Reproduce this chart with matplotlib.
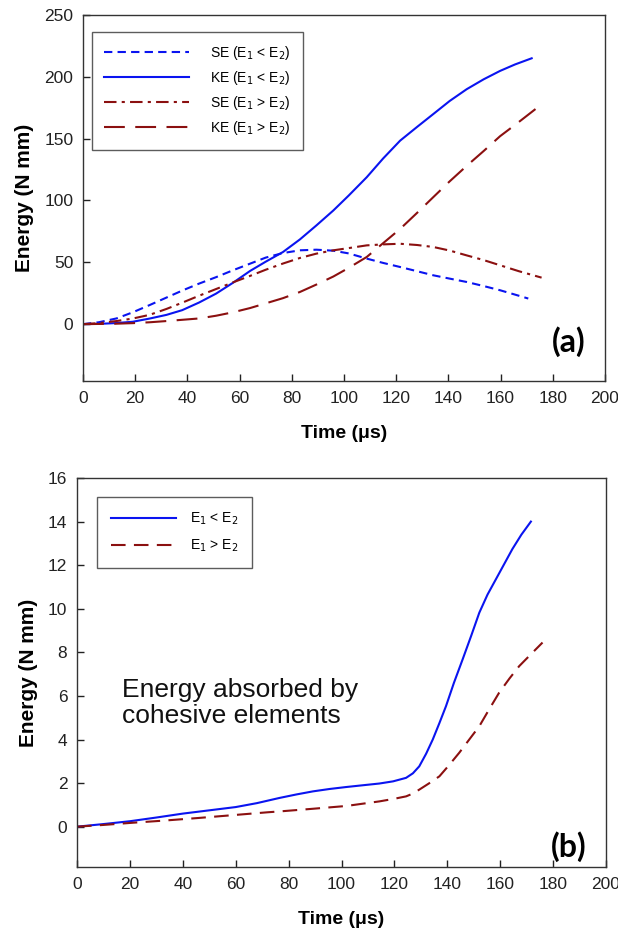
import numpy as np
import matplotlib.pyplot as plt

plt.rcParams['font.family'] = ['Liberation Sans', 'DejaVu Sans']

# (a) strain energy (SE) and kinetic energy (KE), N mm vs time in us
t_se_lt = [0, 6, 12.8, 19, 25.5, 32, 38.3, 44.5, 51, 57.5, 64, 70, 76.6, 83.1, 89.4, 95.9,
           101.8, 108.7, 115, 121.5, 128, 134.2, 140.5, 147, 153.5, 159.8, 165, 170.6]
se_lt = [0, 1.5, 4.6, 9.5, 15.4, 21.5, 27.4, 32.8, 38, 43.6, 48.9, 53.8, 57.5, 59.7, 60.2, 59.4,
         57.2, 53, 49.5, 46.2, 42.8, 39.5, 36.8, 34.1, 30.8, 27.4, 24.2, 20.7]
t_ke_lt = [0, 6, 12, 19, 25.5, 32, 38, 44.5, 51, 57.5, 64, 70, 76.6, 83.1, 89.4, 95.9, 101.8,
           108.7, 115, 121.5, 128, 134.2, 140.5, 147, 153.5, 159.8, 165.5, 171.9]
ke_lt = [0, 0.2, 0.8, 1.9, 4.5, 7.5, 11.3, 17.5, 24.7, 33.5, 43, 50.5, 58.3, 68.5, 79.8, 91.9,
         104, 118.8, 134, 148.4, 159.5, 169.9, 180.5, 190, 198, 204.8, 210, 215]
t_se_gt = [0, 6, 12.8, 19, 25.5, 32, 38.3, 44.5, 51, 57.5, 64, 70, 76.6, 83.1, 89.4, 95.9,
           101.8, 108.7, 115, 121.5, 128, 134.2, 140.5, 147, 153.5, 159.8, 167, 175.7]
se_gt = [0, 0.8, 2.5, 4.5, 7.5, 12.3, 17.6, 23, 28.4, 33.8, 39, 44, 49, 53.5, 57, 59.7, 61.5,
         63.7, 64.5, 65, 64, 62.4, 59.5, 55.6, 51.8, 47.6, 42.8, 37.6]
t_ke_gt = [0, 12, 19, 25.5, 32, 38, 44.5, 51, 57.5, 64, 70, 76.6, 83.1, 89.4, 95.9, 101.8,
           108.7, 115, 121.5, 128, 134.2, 140.5, 147, 153.5, 159.8, 167, 174]
ke_gt = [0, 0.3, 0.8, 1.5, 2.5, 3.5, 4.6, 6.8, 9.6, 13, 16.8, 21, 26, 32, 38.5, 45.5,
         54.3, 65.5, 77, 90, 102.7, 115.5, 128, 140, 152, 163.5, 175]

# (b) energy absorbed by cohesive elements, N mm vs time in us
t_coh_lt = [0, 10, 20, 30, 40, 50, 60, 68, 76.6, 83, 89.2, 95.5, 101.8, 108, 114.3, 119.5,
            124.4, 127, 129.4, 132, 134.5, 137, 139.5, 142.5, 145.8, 149, 152.1, 155.2,
            158.4, 161.5, 164.6, 168, 171.6]
coh_lt = [0, 0.12, 0.25, 0.42, 0.6, 0.75, 0.9, 1.08, 1.32, 1.48, 1.62, 1.73, 1.82, 1.9, 1.98,
          2.08, 2.24, 2.45, 2.77, 3.35, 4.0, 4.75, 5.53, 6.6, 7.68, 8.75, 9.82, 10.65,
          11.36, 12.05, 12.74, 13.4, 14.0]
t_coh_gt = [0, 10, 21, 33, 46, 59, 72, 76.6, 89, 101.8, 114.3, 119.5, 124.4, 127, 129.4, 133,
            137, 140.5, 144.5, 148.3, 152.1, 155.8, 159.6, 163.5, 167.2, 171.5, 176]
coh_gt = [0, 0.08, 0.18, 0.28, 0.4, 0.53, 0.66, 0.7, 0.82, 0.95, 1.16, 1.27, 1.39, 1.52, 1.7,
          1.98, 2.31, 2.8, 3.39, 4.0, 4.61, 5.38, 6.15, 6.8, 7.37, 7.9, 8.45]

blue = '#0a14f0'
red = '#8b1010'

fig = plt.figure(figsize=(6.18, 9.38), dpi=100)
ax1 = fig.add_axes([0.1343, 0.5938, 0.8447, 0.3902])
ax2 = fig.add_axes([0.1246, 0.0757, 0.856, 0.4147])

ax1.plot(t_se_lt, se_lt, color=blue, lw=1.5, dashes=(4, 2.5), label='SE (E$_1$ < E$_2$)')
ax1.plot(t_ke_lt, ke_lt, color=blue, lw=1.5, label='KE (E$_1$ < E$_2$)')
ax1.plot(t_se_gt, se_gt, color=red, lw=1.5, dashes=(6, 2.5, 1.5, 2.5), label='SE (E$_1$ > E$_2$)')
ax1.plot(t_ke_gt, ke_gt, color=red, lw=1.5, dashes=(10, 5), label='KE (E$_1$ > E$_2$)')
ax1.set_ylim(-46, 250)
ax1.set_yticks(np.arange(0, 251, 50))

ax2.plot(t_coh_lt, coh_lt, color=blue, lw=1.5, label='E$_1$ < E$_2$')
ax2.plot(t_coh_gt, coh_gt, color=red, lw=1.5, dashes=(7, 4), label='E$_1$ > E$_2$')
ax2.set_ylim(-1.85, 16)
ax2.set_yticks(np.arange(0, 17, 2))
ax2.text(17, 6.8, 'Energy absorbed by\ncohesive elements', fontsize=19, va='top',
         color='#111111', linespacing=1.1)

for ax, tag, ty in [(ax1, '(a)', 0.065), (ax2, '(b)', 0.012)]:
    ax.set_xlim(0, 200)
    ax.set_xticks(np.arange(0, 201, 20))
    ax.tick_params(direction='in', top=False, right=False, labelsize=12.5,
                   length=5, width=1, pad=7, colors='#222222')
    for s in ax.spines.values():
        s.set_linewidth(1)
        s.set_color('#333333')
    ax.set_xlabel('Time (\u03bcs)', fontsize=14, fontweight='bold', labelpad=14)
    ax.set_ylabel('Energy (N mm)', fontsize=15, fontweight='bold', labelpad=7)
    ax.text(0.963, ty, tag, transform=ax.transAxes, ha='right', va='bottom',
            fontsize=23, fontweight='bold', family='Lato')

leg1 = ax1.legend(loc='upper left', bbox_to_anchor=(0.017, 0.954), borderaxespad=0,
                  fontsize=10, fancybox=False, edgecolor='#333333', handlelength=6.1,
                  handletextpad=1.5, borderpad=0.9, labelspacing=0.5)
leg1.get_frame().set_linewidth(1)
leg2 = ax2.legend(loc='upper left', bbox_to_anchor=(0.038, 0.951), borderaxespad=0,
                  fontsize=10, fancybox=False, edgecolor='#333333', handlelength=4.7,
                  handletextpad=1.0, borderpad=1.0, labelspacing=0.75)
leg2.get_frame().set_linewidth(1)

fig.savefig('out.png', dpi=100)
